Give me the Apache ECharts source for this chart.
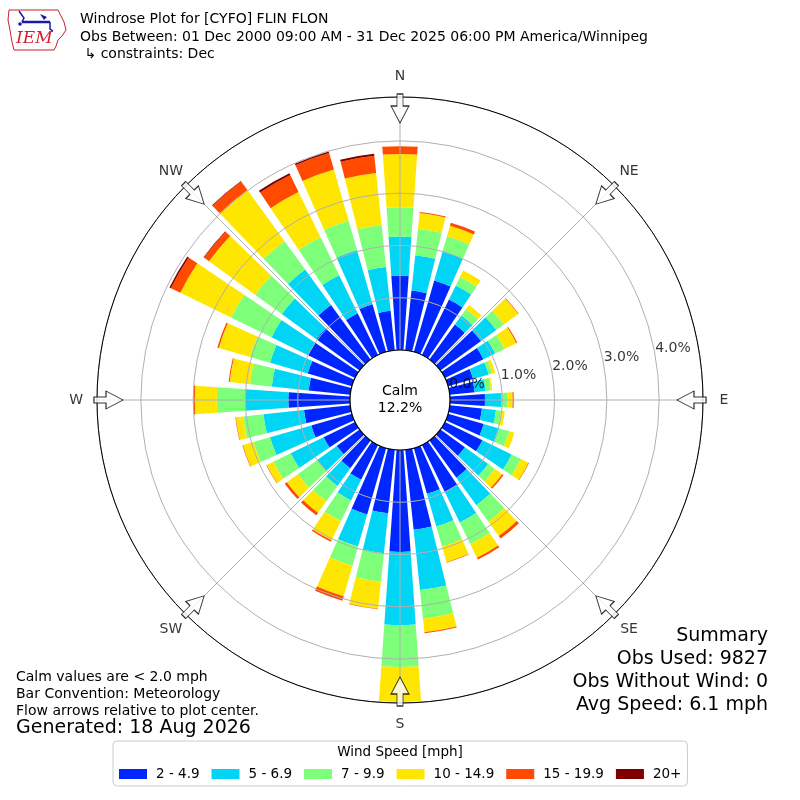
<!DOCTYPE html>
<html>
<head>
<meta charset="utf-8">
<script src="https://cdn.jsdelivr.net/npm/echarts@6/dist/echarts.min.js"></script>
<style>html,body{margin:0;padding:0;background:#fff}#c{width:800px;height:800px}</style>
</head>
<body>
<div id="c"></div>
<script>
// ---- data ----
const directions = ['0','10','20','30','40','50','60','70','80','90','100','110','120','130','140','150','160','170',
                    '180','190','200','210','220','230','240','250','260','270','280','290','300','310','320','330','340','350'];
const binLabels = ['2 - 4.9', '5 - 6.9', '7 - 9.9', '10 - 14.9', '15 - 19.9', '20+'];
const spd2to5   = [1.42,1.15,1.42,1.18,0.83,0.96,0.82,0.50,0.48,0.67,0.62,0.71,0.80,0.58,0.88,1.00,0.91,1.54,1.95,1.22,1.32,0.74,0.66,0.54,0.67,0.81,0.89,1.18,0.80,0.88,1.00,1.02,1.29,0.89,0.95,0.76];
const spd5to7   = [0.75,0.68,0.58,0.30,0.21,0.36,0.25,0.31,0.21,0.32,0.27,0.31,0.62,0.55,0.65,0.65,0.65,1.16,1.40,0.77,0.64,0.44,0.42,0.46,0.70,0.82,0.78,0.83,0.71,0.75,0.78,0.82,0.84,0.81,1.08,0.84];
const spd7to10  = [0.56,0.51,0.30,0.18,0.15,0.18,0.20,0.07,0.10,0.11,0.10,0.20,0.20,0.16,0.39,0.46,0.40,0.55,0.80,0.55,0.38,0.44,0.36,0.46,0.37,0.33,0.39,0.54,0.42,0.40,0.86,0.63,0.67,0.81,0.58,0.81];
const spd10to15 = [1.02,0.30,0.21,0.14,0.10,0.34,0.25,0.06,0.03,0.10,0.07,0.10,0.16,0.17,0.34,0.29,0.31,0.26,0.67,0.52,0.61,0.41,0.27,0.26,0.14,0.21,0.14,0.42,0.39,0.62,1.08,1.09,1.21,0.96,1.02,1.00];
const spd15to20 = [0.15,0.02,0.06,0.00,0.00,0.01,0.02,0.00,0.00,0.02,0.00,0.00,0.01,0.03,0.06,0.04,0.01,0.02,0.00,0.01,0.09,0.03,0.06,0.05,0.01,0.01,0.01,0.03,0.02,0.03,0.20,0.12,0.20,0.36,0.33,0.33];
const spd20plus = [0,0,0,0,0,0,0,0,0,0,0,0,0,0,0,0,0,0,0,0,0,0,0,0,0,0,0,0,0,0,0.03,0.01,0.01,0.04,0.03,0.04];
const calmPct = 12.2;
const radiusTicks = [0, 1, 2, 3, 4];
const compassNames = ['N', 'NE', 'E', 'SE', 'S', 'SW', 'W', 'NW'];
const compassAngles = [0, 45, 90, 135, 180, 225, 270, 315];
const titleLines = ['Windrose Plot for [CYFO] FLIN FLON',
                    'Obs Between: 01 Dec 2000 09:00 AM - 31 Dec 2025 06:00 PM America/Winnipeg',
                    ' \u21B3 constraints: Dec'];
const noteLines = ['Calm values are < 2.0 mph', 'Bar Convention: Meteorology', 'Flow arrows relative to plot center.'];
const generatedText = 'Generated: 18 Aug 2026';
const summaryLines = ['Summary', 'Obs Used: 9827', 'Obs Without Wind: 0', 'Avg Speed: 6.1 mph'];
const legendTitle = 'Wind Speed [mph]';

// ---- style ----
const binColors = ['#0026ff', '#00d5f5', '#7dff7a', '#ffe600', '#ff4a00', '#7f0000'];
const FONT = '"DejaVu Sans", "Liberation Sans", sans-serif';
const CENTER = [400, 400];
const RMAX = 4.84;
const ARROW_R = 4.62;
const LABEL_R = 5.24;
const RLABEL_ANGLE = 80;

const binData = [spd2to5, spd5to7, spd7to10, spd10to15, spd15to20, spd20plus];

const chart = echarts.init(document.getElementById('c'), null, {renderer: 'canvas'});

const barSeries = binLabels.map((name, i) => ({
  type: 'bar',
  name: name,
  coordinateSystem: 'polar',
  polarIndex: 0,
  stack: 'wind',
  data: binData[i],
  barCategoryGap: '20%',
  itemStyle: {color: binColors[i]},
  silent: true,
  z: 2
}));

const graphics = [];
titleLines.forEach((t, i) => {
  graphics.push({type: 'text', style: {text: t, x: 80, y: 19.5 + i * 17.5, fill: '#000', font: '14px ' + FONT, textAlign: 'left', textVerticalAlign: 'middle'}});
});
noteLines.forEach((t, i) => {
  graphics.push({type: 'text', style: {text: t, x: 16, y: 677 + i * 17, fill: '#000', font: '14px ' + FONT, textAlign: 'left', textVerticalAlign: 'middle'}});
});
graphics.push({type: 'text', style: {text: generatedText, x: 16, y: 728, fill: '#000', font: '19px ' + FONT, textAlign: 'left', textVerticalAlign: 'middle'}});
summaryLines.forEach((t, i) => {
  graphics.push({type: 'text', style: {text: t, x: 768, y: 636 + i * 23, fill: '#000', font: '19px ' + FONT, textAlign: 'right', textVerticalAlign: 'middle'}});
});
graphics.push({type: 'text', style: {text: legendTitle, x: 400, y: 752, fill: '#000', font: '13.5px ' + FONT, textAlign: 'center', textVerticalAlign: 'middle'}});
// IEM logo (simplified)
graphics.push({type: 'polygon', shape: {points: [[9,10],[58,10],[60,14],[64,22],[66,30],[62,36],[58,40],[56,46],[54,50],[14,50],[12,42],[10,30],[8,20]]},
  style: {fill: 'none', stroke: '#c8202f', lineWidth: 1}});
graphics.push({type: 'polyline', shape: {points: [[22,22],[50,22]]}, style: {stroke: '#1a1aa6', lineWidth: 2.5}});
graphics.push({type: 'polyline', shape: {points: [[19,11],[24,18],[22,22]]}, style: {stroke: '#1a1aa6', lineWidth: 1.5, fill: 'none'}});
graphics.push({type: 'polygon', shape: {points: [[40,14],[47,17],[44,20]]}, style: {fill: '#1a1aa6'}});
graphics.push({type: 'polyline', shape: {points: [[50,22],[50,29],[53,31]]}, style: {stroke: '#1a1aa6', lineWidth: 1.5, fill: 'none'}});
graphics.push({type: 'circle', shape: {cx: 20, cy: 24, r: 1.8}, style: {fill: '#1a1aa6'}});
graphics.push({type: 'text', style: {text: 'IEM', x: 16, y: 39, fill: '#d2202f', font: 'italic 17px "DejaVu Serif", "Liberation Serif", serif', textAlign: 'left', textVerticalAlign: 'middle'}});

const option = {
  animation: false,
  backgroundColor: '#fff',
  polar: [
    {center: CENTER, radius: [50, 303]},
    {center: CENTER, radius: [50, 303]}
  ],
  angleAxis: [
    {polarIndex: 0, type: 'category', data: directions, startAngle: 95, clockwise: true,
     axisLine: {show: false}, axisTick: {show: false}, axisLabel: {show: false}, splitLine: {show: false}},
    {polarIndex: 1, type: 'value', min: 0, max: 360, interval: 45, startAngle: 90, clockwise: true, z: 4,
     axisLine: {show: true, lineStyle: {color: '#000', width: 1}}, axisTick: {show: false}, axisLabel: {show: false},
     splitLine: {show: true, lineStyle: {color: '#b0b0b0', width: 1}}}
  ],
  radiusAxis: [
    {polarIndex: 0, type: 'value', min: 0, max: RMAX,
     axisLine: {show: false}, axisTick: {show: false}, axisLabel: {show: false}, splitLine: {show: false}},
    {polarIndex: 1, type: 'value', min: 0, max: RMAX, interval: 1, z: 3,
     axisLine: {show: false}, axisTick: {show: false}, axisLabel: {show: false},
     splitLine: {show: true, lineStyle: {color: '#b0b0b0', width: 1}}}
  ],
  legend: {
    data: binLabels, left: 113, top: 741, orient: 'horizontal', icon: 'rect',
    itemWidth: 28, itemHeight: 10, itemGap: 12, selectedMode: false,
    padding: [26, 6, 5, 6], borderColor: '#cccccc', borderWidth: 1, borderRadius: 4,
    textStyle: {fontFamily: FONT, fontSize: 13.5, color: '#000', padding: [0, 0, 0, 4]}
  },
  graphic: graphics,
  series: barSeries.concat([
    {
      type: 'scatter', coordinateSystem: 'polar', polarIndex: 1, clip: false, silent: true, z: 8,
      symbol: 'path://M-3,0L3,0L3,12L9,12L0,29L-9,12L-3,12Z', symbolSize: [18, 29],
      itemStyle: {color: '#fff', borderColor: '#000', borderWidth: 1},
      data: compassAngles.map(a => ({value: [ARROW_R, a], symbolRotate: -a}))
    },
    {
      type: 'scatter', coordinateSystem: 'polar', polarIndex: 1, clip: false, silent: true, z: 8,
      symbol: 'circle', symbolSize: 1, itemStyle: {color: 'rgba(0,0,0,0)'},
      label: {show: true, position: 'inside', formatter: p => p.name, fontFamily: FONT, fontSize: 14, color: '#000'},
      data: compassNames.map((n, i) => ({name: n, value: [LABEL_R, compassAngles[i]]}))
    },
    {
      type: 'scatter', coordinateSystem: 'polar', polarIndex: 1, clip: false, silent: true, z: 12,
      symbol: 'circle', symbolSize: 1, itemStyle: {color: 'rgba(0,0,0,0)'},
      label: {show: true, position: 'inside', align: 'left', verticalAlign: 'bottom',
              formatter: p => p.value[0].toFixed(1) + '%', fontFamily: FONT, fontSize: 14, color: '#000'},
      data: radiusTicks.map(t => ({value: [t, RLABEL_ANGLE]}))
    },
    {
      type: 'pie', center: CENTER, radius: [0, 50], silent: true, z: 10,
      itemStyle: {color: '#fff', borderColor: '#000', borderWidth: 1.2},
      label: {show: true, position: 'center', formatter: p => 'Calm\n' + p.value.toFixed(1) + '%',
              fontFamily: FONT, fontSize: 14, color: '#000', lineHeight: 17},
      labelLine: {show: false},
      data: [{name: 'Calm', value: calmPct}]
    }
  ])
};
chart.setOption(option);
</script>
</body>
</html>
